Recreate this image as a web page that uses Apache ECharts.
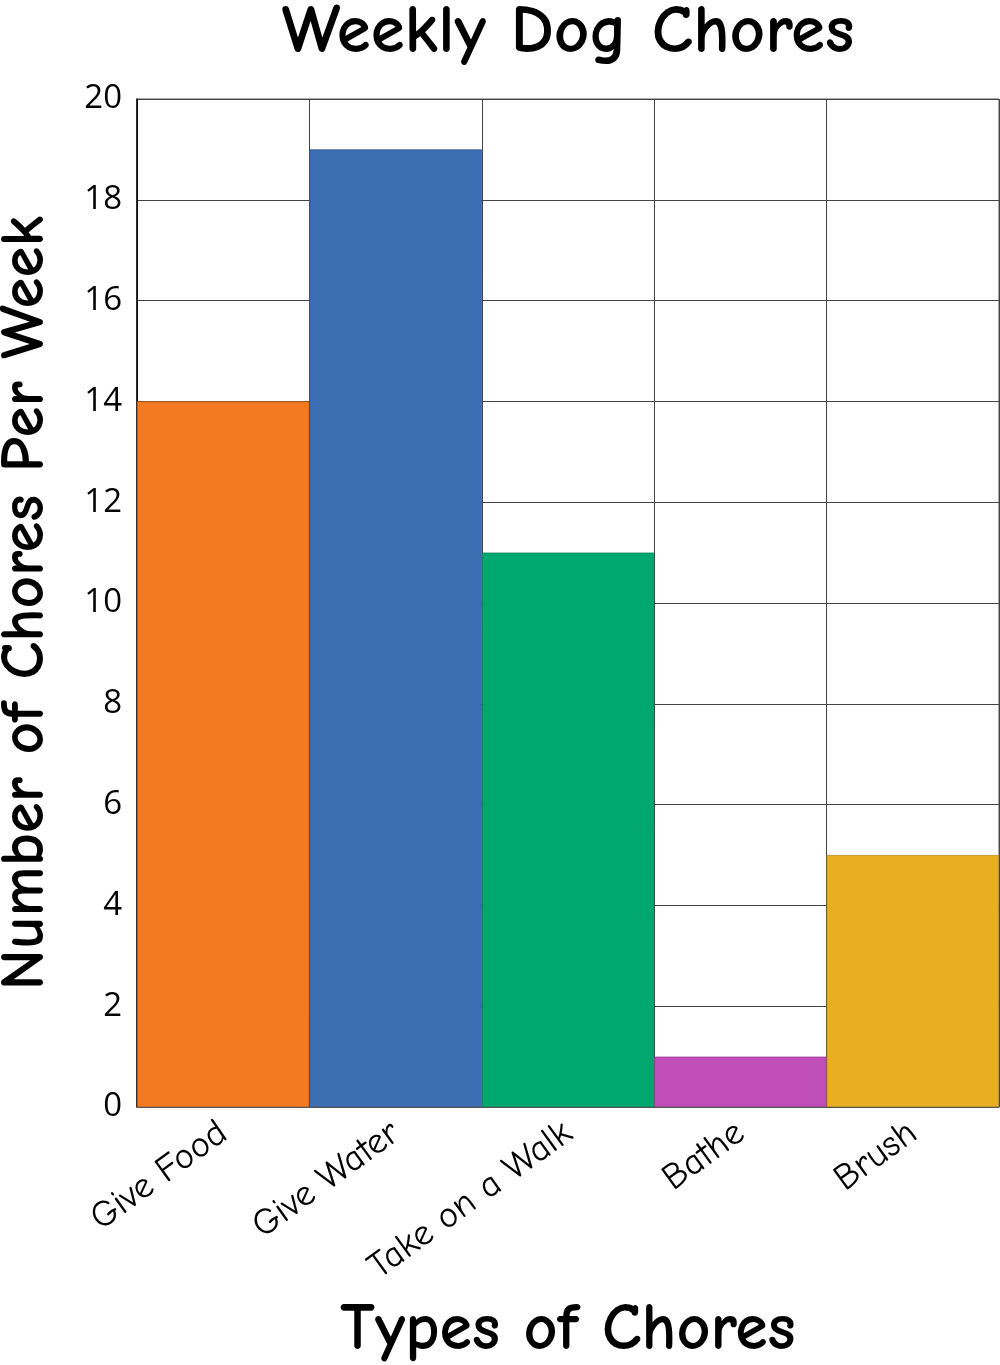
<!DOCTYPE html>
<html>
<head>
<meta charset="utf-8">
<script src="https://cdn.jsdelivr.net/npm/echarts@6/dist/echarts.min.js"></script>
<style>
html,body{margin:0;padding:0;background:#fff;}
#chart{width:1000px;height:1365px;}
</style>
</head>
<body>
<div id="chart"></div>
<script>
const categories = ["Give Food", "Give Water", "Take on a Walk", "Bathe", "Brush"];
const values = [14, 19, 11, 1, 5];
const barColors = ["#F47A22", "#3C6EB4", "#00A76F", "#C04FBA", "#E8AF23"];
const borderColors = ["#C0611A", "#2F5690", "#008457", "#983E93", "#B88A1B"];
const yTicks = { min: 0, max: 20, interval: 2 };

const handFont = '"Comic Sans MS", "Comic Neue", "Lato", "Open Sans", sans-serif';
const chart = echarts.init(document.getElementById('chart'), null, { renderer: 'canvas' });
chart.setOption({
  backgroundColor: '#ffffff',
  animation: false,
  title: {
    text: 'Weekly Dog Chores',
    left: 563, top: -7, textAlign: 'center',
    textStyle: { fontFamily: handFont, fontSize: 69, fontWeight: 'bold', color: '#000' }
  },
  grid: { left: 137, right: 1, top: 99, bottom: 258, show: true, borderColor: '#555', borderWidth: 1,
          containLabel: false, outerBoundsMode: 'none' },
  xAxis: {
    type: 'category',
    data: categories,
    boundaryGap: true,
    axisTick: { show: false },
    axisLine: { show: true, lineStyle: { color: '#555', width: 1 } },
    splitLine: { show: true, interval: 0, lineStyle: { color: '#444', width: 1 } },
    axisLabel: {
      interval: 0, rotate: 36, margin: 22,
      fontFamily: handFont, fontSize: 37, color: '#000'
    },
    name: 'Types of Chores',
    nameLocation: 'middle', nameGap: 190,
    nameTextStyle: { fontFamily: handFont, fontSize: 66, fontWeight: 'bold', color: '#000' }
  },
  yAxis: {
    type: 'value',
    min: yTicks.min, max: yTicks.max, interval: yTicks.interval,
    axisLine: { show: true, lineStyle: { color: '#000', width: 1.5 } },
    axisTick: { show: false },
    splitLine: { show: true, lineStyle: { color: '#444', width: 1 } },
    axisLabel: { margin: 15, padding: [6, 0, 0, 0], fontFamily: '"Open Sans", sans-serif', fontSize: 33, color: '#000' },
    name: 'Number of Chores Per Week',
    nameLocation: 'middle', nameGap: 80, nameRotate: 90,
    nameTextStyle: { fontFamily: handFont, fontSize: 63, fontWeight: 'bold', color: '#000' }
  },
  series: [{
    type: 'bar',
    barCategoryGap: '0%',
    data: values.map((v, i) => ({
      value: v,
      itemStyle: { color: barColors[i], borderColor: borderColors[i], borderWidth: 0.8 }
    }))
  }]
});
</script>
</body>
</html>
